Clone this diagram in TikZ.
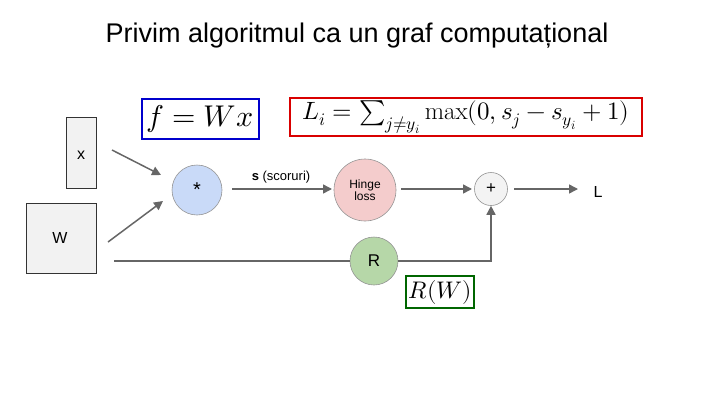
\documentclass[tikz,border=0pt]{standalone}
\usepackage{fontspec}
\setmainfont{Liberation Sans}
\usepackage{unicode-math}
\setmathfont{Latin Modern Math}
\setmathrm{Latin Modern Roman}
\usetikzlibrary{arrows.meta}
\definecolor{ln}{HTML}{666666}
\tikzset{
  conn/.style={draw=ln, line width=1.5pt, -{Triangle[length=9pt,width=9pt]}},
  op/.style={circle, draw=ln!70, line width=0.6pt, inner sep=0pt},
  inbox/.style={draw=black!80, fill=black!5, line width=0.6pt},
  fbox/.style={line width=2pt, inner sep=2pt}
}
\begin{document}
\begin{tikzpicture}[x=1pt,y=-1pt]
\useasboundingbox (0,0) rectangle (720,405);
\node (title) at (357,36) {\fontsize{27}{30}\selectfont Privim algoritmul ca un graf computațional};
\draw[inbox] (66,117) rectangle (96,188);
\node (xl) at (81,155) {\fontsize{16}{18}\selectfont x};
\draw[inbox] (26,203) rectangle (96,273);
\node (wl) at (60,238) {\fontsize{16}{18}\selectfont W};
\node[op, fill={rgb,255:red,201;green,218;blue,248}, minimum size=50pt] (mul) at (197,190) {\fontsize{20}{20}\selectfont *};
\node[op, fill={rgb,255:red,244;green,204;blue,204}, minimum size=62pt, align=center] (hinge) at (365,190) {\fontsize{12}{18}\selectfont Hinge\\\fontsize{12}{18}\selectfont loss};
\node[op, fill={rgb,255:red,243;green,243;blue,243}, minimum size=33pt] (plus) at (491,189) {\fontsize{17}{17}\selectfont +};
\node (L) at (598,192) {\fontsize{16}{18}\selectfont L};
\node[op, fill={rgb,255:red,182;green,215;blue,168}, minimum size=48pt] (R) at (374,261) {\fontsize{17}{17}\selectfont R};
\coordinate (x1) at (112,150); \coordinate (x2) at (161,175);
\coordinate (w1) at (108,242); \coordinate (w2) at (163,201);
\coordinate (wl0) at (114,261); \coordinate (pc) at (491,261);
\draw[conn] (x1) -- (x2);
\draw[conn] (w1) -- (w2);
\coordinate (m0) at (232,189); \coordinate (m1) at (332,189);
\coordinate (h0) at (401,189); \coordinate (h1) at (472,189);
\coordinate (p0) at (514,189); \coordinate (p1) at (578,189);
\draw[conn] (m0) -- (m1);
\node (s) at (281,177) {\fontsize{13}{15}\selectfont\textbf{s} (scoruri)};
\draw[conn] (h0) -- (h1);
\draw[conn] (p0) -- (p1);
\draw[draw=ln, line width=1.5pt] (wl0) -- (R.west);
\draw[conn] (R.east) -- (pc) -- (plus.south);
\node[draw=blue!80!black, fbox, minimum width=117pt, minimum height=40pt] (f) at (200,119) {\fontsize{30}{32}\selectfont$f = Wx$};
\node[draw=red!85!black, fbox, minimum width=352pt, minimum height=38pt] (li) at (466,117) {\fontsize{25}{28}\selectfont$L_i=\sum\nolimits_{j\neq y_i}\mathrm{max}(0,s_j-s_{y_i}+1)$};
\node[draw=green!40!black, fbox, minimum width=64pt, minimum height=32pt] (rw) at (440,292) {\fontsize{24}{26}\selectfont$R(W)$};
\end{tikzpicture}
\end{document}
